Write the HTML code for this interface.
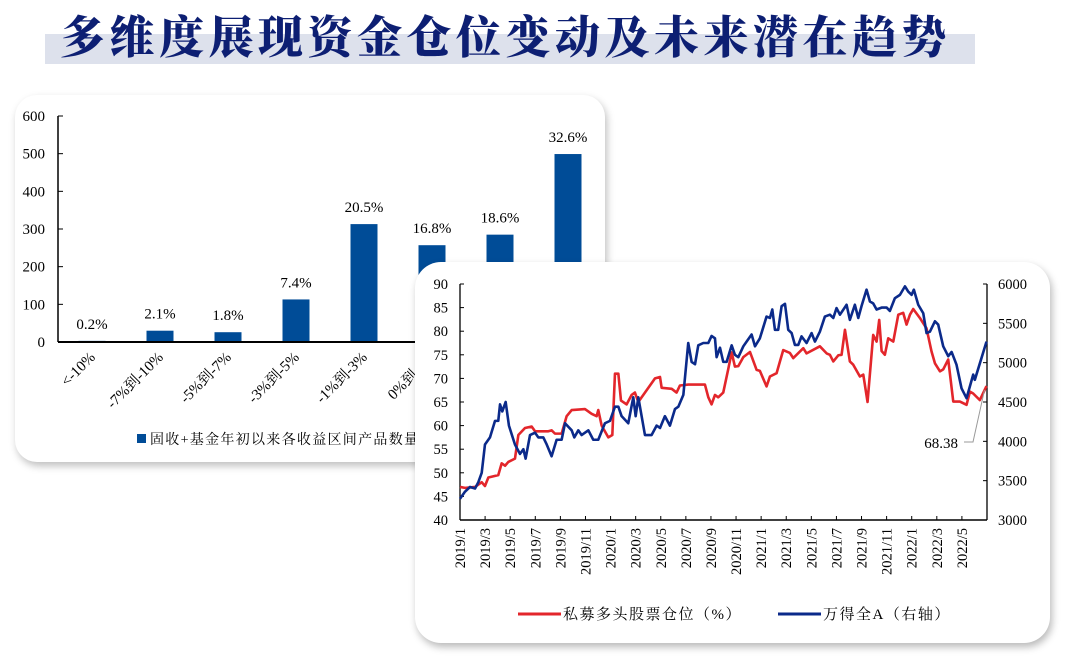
<!DOCTYPE html>
<html><head><meta charset="utf-8">
<style>
body{margin:0;width:1080px;height:661px;background:#fff;position:relative;overflow:hidden;font-family:"Liberation Serif","Noto Serif CJK SC",serif;}
.abs{position:absolute;left:0;top:0;}
#band{position:absolute;left:45px;top:34px;width:930px;height:30px;background:#dde1ec;}
#title{position:absolute;left:60px;top:4px;font-family:"Noto Serif CJK SC","WenQuanYi Zen Hei",serif;font-weight:900;font-size:45px;letter-spacing:4.5px;color:#0d1f73;white-space:nowrap;line-height:60px;}
#cardL{position:absolute;left:15px;top:95px;width:590px;height:367px;background:#fff;border-radius:22px;box-shadow:2px 4px 8px rgba(0,0,0,0.25);}
#cardR{position:absolute;left:415px;top:262px;width:635px;height:381px;background:#fff;border-radius:26px;box-shadow:2px 4px 8px rgba(0,0,0,0.28);}
svg text{font-family:"Liberation Serif","Noto Serif CJK SC",serif;}
</style></head><body>
<div id="band"></div>
<div id="title">多维度展现资金仓位变动及未来潜在趋势</div>
<div id="cardL"></div>
<svg id="svgL" class="abs" width="1080" height="661"></svg>
<div id="cardR"></div>
<svg id="svgR" class="abs" width="1080" height="661"></svg>
<script>
// ---- bar chart data ----
const barCats = ["<-10%","-7%到-10%","-5%到-7%","-3%到-5%","-1%到-3%","0%到-1%","0%到1%","1%以上"];
const barVals = [3,30,26,113,313,257,285,499];
const barPct = ["0.2%","2.1%","1.8%","7.4%","20.5%","16.8%","18.6%","32.6%"];
const barTicks = [0,100,200,300,400,500,600];

// ---- line chart data ----
const redT = [0,0.4,1.2,1.73,1.99,2.26,3.05,3.32,3.59,3.85,4.38,4.65,5.18,5.71,5.98,7.04,7.3,7.57,8.1,8.5,8.9,9.96,10.49,10.89,11.02,11.29,11.82,12.14,12.35,12.62,12.83,13.28,13.68,13.94,14.21,15.54,15.94,16.07,16.87,17.26,17.53,18.19,19.52,19.79,20.05,20.32,20.58,20.98,21.38,21.65,21.91,22.18,22.58,23.11,23.64,23.9,24.43,24.7,25.23,25.5,25.76,26.29,26.56,27.36,27.62,28.68,29.22,29.48,29.75,30.15,30.41,30.68,31.07,31.34,31.87,32.14,32.48,32.93,33.2,33.41,33.6,33.86,34.13,34.53,34.93,35.32,35.59,35.86,36.12,36.65,37.18,37.58,37.85,38.25,38.51,38.91,39.31,39.84,40.37,40.64,40.9,41.43,41.96];
const redV = [47,46.8,47,48,47.2,49,49.5,52,51.5,52.3,53,58,59.5,59.8,58.8,58.8,59,58.3,58.3,62,63.3,63.5,62.5,62,63.3,60,57.5,58,71,71,65.3,64.5,66.5,67,65,70,70.3,68,67.8,67,68.5,68.7,68.7,66,64.5,66.5,66,67,72,75.5,72.5,72.6,74.5,75.6,71.8,71.6,68.3,70.4,71.1,73.6,76,75.4,74.3,76.4,75.3,76.8,75.3,75,73.6,74.9,75,80.3,73.6,72.9,70.4,70.8,65,79.2,77.8,82.4,75.8,75,78.5,77.8,83.5,83.9,81.4,83.5,84.7,82.8,80.6,75.7,73.2,71.5,71.9,74,65.1,65.1,64.4,67.2,66.8,65.4,68.38];
const blueT = [0,0.4,0.8,1.2,1.46,1.73,1.99,2.39,2.79,3.05,3.19,3.37,3.64,3.9,4.38,4.78,5.05,5.23,5.58,5.98,6.24,6.64,6.91,7.3,7.7,8.1,8.37,8.9,9.11,9.43,9.69,10.23,10.62,11.02,11.55,11.95,12.35,12.62,12.88,13.41,13.81,14,14.21,14.74,15.27,15.67,15.94,16.33,16.73,17.13,17.4,17.8,18.19,18.46,18.73,18.99,19.39,19.79,20.05,20.32,20.45,20.72,20.98,21.25,21.65,21.91,22.18,22.58,22.84,23.24,23.51,23.9,24.43,24.7,24.89,25.1,25.36,25.63,25.9,26.16,26.43,26.69,26.96,27.22,27.62,28.02,28.29,28.68,29.08,29.48,29.75,30.01,30.28,30.81,31.07,31.47,31.74,32.0,32.4,32.67,32.93,33.2,33.6,34,34.26,34.66,35.06,35.46,35.72,35.99,36.17,36.52,36.92,37.18,37.45,37.85,38.11,38.51,38.91,39.18,39.57,39.97,40.37,40.9,41.03,41.96];
const blueV = [3270,3360,3420,3400,3480,3600,3960,4050,4260,4260,4470,4380,4500,4200,3960,3840,3900,3780,4080,4110,4050,4050,3960,3810,4020,4020,4230,4140,4050,4140,4080,4140,4020,4020,4230,4260,4440,4440,4320,4230,4560,4320,4560,4080,4080,4200,4170,4320,4200,4410,4440,4590,5250,5010,4980,5220,5250,5250,5340,5310,5070,5190,5010,5010,5220,5100,5070,5208,5268,5358,5208,5310,5586,5568,5676,5418,5418,5718,5748,5418,5376,5226,5226,5334,5250,5376,5268,5394,5586,5610,5568,5694,5610,5736,5544,5736,5568,5718,5928,5778,5754,5676,5700,5700,5658,5820,5862,5970,5904,5862,5928,5736,5628,5376,5394,5526,5484,5208,5082,5136,4974,4674,4548,4848,4782,5268];
const leftTicks = [40,45,50,55,60,65,70,75,80,85,90];
const rightTicks = [3000,3500,4000,4500,5000,5500,6000];
const xLabels = ["2019/1","2019/3","2019/5","2019/7","2019/9","2019/11","2020/1","2020/3","2020/5","2020/7","2020/9","2020/11","2021/1","2021/3","2021/5","2021/7","2021/9","2021/11","2022/1","2022/3","2022/5"];
const xLabelMonths = [0,2,4,6,8,10,12,14,16,18,20,22,24,26,28,30,32,34,36,38,40];
const lastLabel = "68.38";

const NS="http://www.w3.org/2000/svg";
function mk(parent,tag,attrs,txt){const e=document.createElementNS(NS,tag);for(const k in attrs)e.setAttribute(k,attrs[k]);if(txt!==undefined)e.textContent=txt;parent.appendChild(e);return e;}

// ---- bar chart ----
(function(){
const s=document.getElementById('svgL');
const x0=58,y0=342,yTop=116,bw=68,barW=27;
const ys=v=>y0-(v/600)*(y0-yTop);
const xc=i=>x0+bw*(i+0.5);
barTicks.forEach(t=>{
  const tl=mk(s,'text',{x:45,y:ys(t)+5,'text-anchor':'end','font-size':15,fill:'#000'},t);
  
  
  mk(s,'line',{x1:x0,x2:x0+5,y1:ys(t),y2:ys(t),stroke:'#000','stroke-width':1});
});
const ax=mk(s,'line',{x1:x0,x2:x0,y1:yTop,y2:y0,stroke:'#000','stroke-width':1.5});


barVals.forEach((v,i)=>{
  const r=mk(s,'rect',{x:xc(i)-barW/2,y:ys(v),width:barW,height:y0-ys(v),fill:'#004c97'});
  
  
  const t=mk(s,'text',{x:xc(i),y:ys(v)-12,'text-anchor':'middle','font-size':15,fill:'#000'},barPct[i]);
  
  
  const c=mk(s,'text',{x:xc(i)+4,y:358,'text-anchor':'end','font-size':15,fill:'#000',transform:`rotate(-45 ${xc(i)+4} 358)`},barCats[i]);
  
  
});
const xa=mk(s,'line',{x1:x0,x2:x0+bw*8,y1:y0,y2:y0,stroke:'#000','stroke-width':2});


const lg=mk(s,'rect',{x:137,y:434,width:9,height:9,fill:'#004c97'});


const lt=mk(s,'text',{x:150,y:444,'font-size':14,fill:'#000','letter-spacing':1.3},'固收+基金年初以来各收益区间产品数量（只）');


})();

// ---- line chart ----
(function(){
const s=document.getElementById('svgR');
const xL=460,xR=987,yB=520,yT=284,mEnd=42;
const xs=m=>xL+(m/mEnd)*(xR-xL);
const yl=v=>yB-(v-40)/50*(yB-yT);
const yr=v=>yB-(v-3000)/3000*(yB-yT);
leftTicks.forEach(t=>{
  const e=mk(s,'text',{x:448,y:yl(t)+5,'text-anchor':'end','font-size':14.5,fill:'#000'},t);
  
  
  mk(s,'line',{x1:xL,x2:xL+4,y1:yl(t),y2:yl(t),stroke:'#000'});
});
rightTicks.forEach(t=>{
  const e=mk(s,'text',{x:998,y:yr(t)+5,'font-size':14.5,fill:'#000'},t);
  
  
  mk(s,'line',{x1:xR-4,x2:xR,y1:yr(t),y2:yr(t),stroke:'#000'});
});
xLabelMonths.forEach((m,i)=>{
  const x=xs(m);
  mk(s,'line',{x1:x,x2:x,y1:yB,y2:yB-4,stroke:'#000'});
  const e=mk(s,'text',{x:x+5,y:528,'text-anchor':'end','font-size':14.5,fill:'#000',transform:`rotate(-90 ${x+5} 528)`},xLabels[i]);
  
  
});
const a1=mk(s,'line',{x1:xL,x2:xL,y1:yT,y2:yB,stroke:'#000','stroke-width':1.3});


const a2=mk(s,'line',{x1:xR,x2:xR,y1:yT,y2:yB,stroke:'#000','stroke-width':1.3});


const a3=mk(s,'line',{x1:xL,x2:xR,y1:yB,y2:yB,stroke:'#000','stroke-width':1.5});


const rp=mk(s,'polyline',{points:redT.map((t,i)=>xs(t)+','+yl(redV[i])).join(' '),fill:'none',stroke:'#e3262b','stroke-width':2.6,'stroke-linejoin':'round'});


const bp=mk(s,'polyline',{points:blueT.map((t,i)=>xs(t)+','+yr(blueV[i])).join(' '),fill:'none',stroke:'#0b2a8a','stroke-width':2.6,'stroke-linejoin':'round'});


// annotation
const lx=xs(redT[redT.length-1]),ly=yl(redV[redV.length-1]);
const an=mk(s,'polyline',{points:`964,442 973,442 ${lx-2},${ly+4}`,fill:'none',stroke:'#999','stroke-width':1});


const at=mk(s,'text',{x:958,y:448,'text-anchor':'end','font-size':15,fill:'#000'},lastLabel);


// legend
const l1=mk(s,'line',{x1:518,x2:561,y1:614,y2:614,stroke:'#e3262b','stroke-width':3});


const t1=mk(s,'text',{x:563,y:619,'font-size':15,fill:'#000','letter-spacing':1.5},'私募多头股票仓位（%）');


const l2=mk(s,'line',{x1:778,x2:821,y1:614,y2:614,stroke:'#0b2a8a','stroke-width':3});


const t2=mk(s,'text',{x:823,y:619,'font-size':15,fill:'#000','letter-spacing':1.5},'万得全A（右轴）');


})();
</script>
</body></html>
